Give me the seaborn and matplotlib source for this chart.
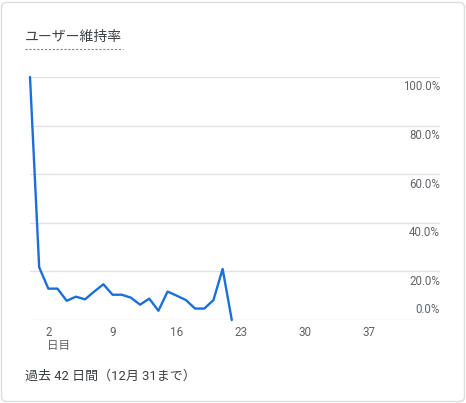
import matplotlib
matplotlib.use("Agg")
import matplotlib.pyplot as plt
import matplotlib.transforms as mtransforms
from matplotlib.patches import FancyBboxPatch
import seaborn as sns
import pandas as pd

days = list(range(0, 23))
retention = [100.0, 21.7, 12.9, 12.9, 7.9, 9.6, 8.5, 11.7, 14.7, 10.4, 10.4, 9.2,
             6.3, 8.8, 3.8, 11.7, 10.0, 8.2, 4.7, 4.7, 8.2, 21.0, 0.0]
x_ticks = [2, 9, 16, 23, 30, 37]
y_ticks = [0, 20, 40, 60, 80, 100]
y_labels = ["0.0%", "20.0%", "40.0%", "60.0%", "80.0%", "100.0%"]
title = "ユーザー維持率"
x_unit = "日目"
footer = "過去 42 日間（12月 31まで）"

sns.set_theme(style="white")
plt.rcParams["font.family"] = ["Roboto", "Noto Sans CJK JP", "DejaVu Sans"]

df = pd.DataFrame({"day": days, "retention": retention})

fig = plt.figure(figsize=(4.66, 4.03), dpi=100)
W, H = 466, 403

# card border
card = FancyBboxPatch((1.5 / W, 1.5 / H), (W - 3) / W, (H - 4) / H,
                      boxstyle="round,pad=0,rounding_size=0.012",
                      transform=fig.transFigure, facecolor="white",
                      edgecolor="#dadce0", linewidth=1.0, zorder=-10)
fig.patches.append(card)

ax = fig.add_axes([30 / W, (H - 320) / H, 410 / W, 243 / H])
ax.set_facecolor("none")
sns.lineplot(data=df, x="day", y="retention", ax=ax, color="#1b6fdb",
             linewidth=1.7, clip_on=False)

ax.set_xlim(0, 44.7)
ax.set_ylim(0, 100)
ax.set_xticks(x_ticks)
ax.set_xticklabels([str(t) for t in x_ticks])
ax.set_yticks(y_ticks)
ax.set_yticklabels([])
ax.tick_params(axis="x", length=0, pad=4, labelsize=8.4, labelcolor="#5f6368")
ax.tick_params(axis="y", length=0)
for s in ax.spines.values():
    s.set_visible(False)
ax.yaxis.grid(True, color="#e3e3e3", linewidth=1.0)
ax.set_axisbelow(True)
ax.set_xlabel("")
ax.set_ylabel("")

# right-side y labels
trans = mtransforms.blended_transform_factory(ax.transAxes, ax.transData)
for v, lab in zip(y_ticks, y_labels):
    if v == 0:
        off = mtransforms.offset_copy(trans, fig=fig, x=0, y=3, units="points")
        va = "bottom"
    else:
        off = mtransforms.offset_copy(trans, fig=fig, x=0, y=-2.5, units="points")
        va = "top"
    ax.text(1.0, v, lab, transform=off, ha="right", va=va, fontsize=8.3,
            color="#5f6368")

# x unit label under first tick
tu = mtransforms.blended_transform_factory(ax.transData, fig.transFigure)
ax.text(x_ticks[0] - 0.1, 1 - 345 / H, x_unit, transform=tu, ha="left",
        va="center", fontsize=8.3, color="#5f6368")

# title with dotted underline
fig.text(25 / W, 1 - 37 / H, title, ha="left", va="center", fontsize=10,
         color="#3c4043")
fig.lines.append(plt.Line2D([25 / W, 123 / W], [1 - 49 / H, 1 - 49 / H],
                            transform=fig.transFigure, color="#80868b",
                            linewidth=0.8, linestyle=(0, (2, 1.5))))

fig.text(25 / W, 1 - 376 / H, footer, ha="left", va="center", fontsize=9.4,
         color="#3c4043")

fig.savefig("out.png", dpi=100, facecolor="white")
